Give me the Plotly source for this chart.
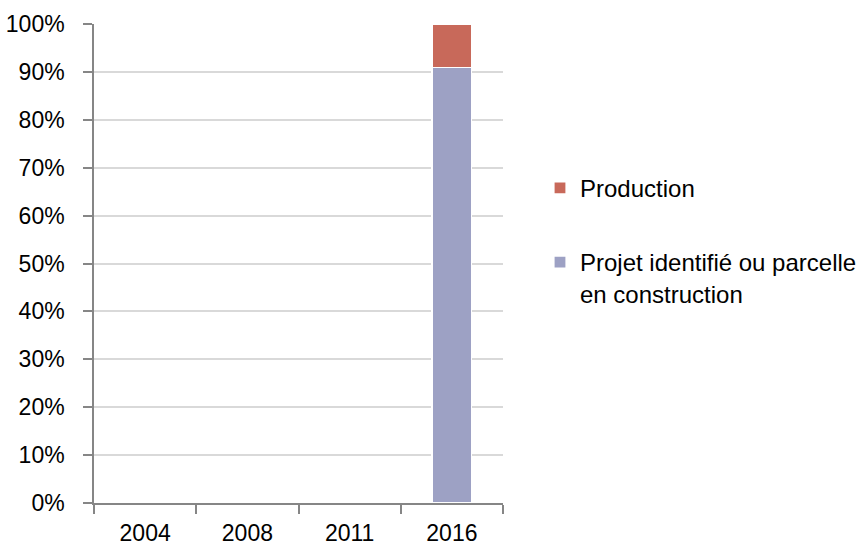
import plotly.graph_objects as go

years = ["2004", "2008", "2011", "2016"]
projet = [None, None, None, 91]
production = [None, None, None, 9]

FONT = "Liberation Sans, Arial, sans-serif"

fig = go.Figure()
fig.add_trace(go.Bar(
    x=years, y=projet, name="Projet identifié ou parcelle<br>en construction",
    marker=dict(color="#9DA1C4", line=dict(color="white", width=1.2)),
    width=0.39, legendgroup="b", legendrank=2,
))
fig.add_trace(go.Bar(
    x=years, y=production, name="Production",
    marker=dict(color="#C8695A", line=dict(color="white", width=1.2)),
    width=0.39, legendgroup="a", legendrank=1,
))

fig.update_layout(
    width=862, height=550,
    barmode="stack",
    plot_bgcolor="white", paper_bgcolor="white",
    margin=dict(l=94, r=0, t=24, b=47),
    font=dict(family=FONT, size=23, color="black"),
    legend=dict(
        x=1.0, y=0.704, xanchor="right", yanchor="top",
        traceorder="grouped", tracegroupgap=40, valign="top",
        font=dict(family=FONT, size=24),
        itemwidth=30,
    ),
    xaxis=dict(
        type="category", domain=[0, 409 / 768],
        showline=True, linecolor="#868686", linewidth=1.5,
        ticks="outside", tickson="boundaries", ticklen=9, tickcolor="#868686",
        tickwidth=1.5, showgrid=False, automargin=False, ticklabelstandoff=9,
    ),
    yaxis=dict(
        range=[0, 100], dtick=10, ticksuffix="%",
        showline=True, linecolor="#868686", linewidth=1.5,
        ticks="outside", ticklen=9, tickcolor="#868686", tickwidth=1.5,
        showgrid=True, gridcolor="#D9D9D9", gridwidth=1.5,
        zeroline=False, automargin=False, ticklabelstandoff=14,
    ),
)

fig.write_html("out.html", config={"displayModeBar": False},
               post_script="document.body.style.margin='0';")
